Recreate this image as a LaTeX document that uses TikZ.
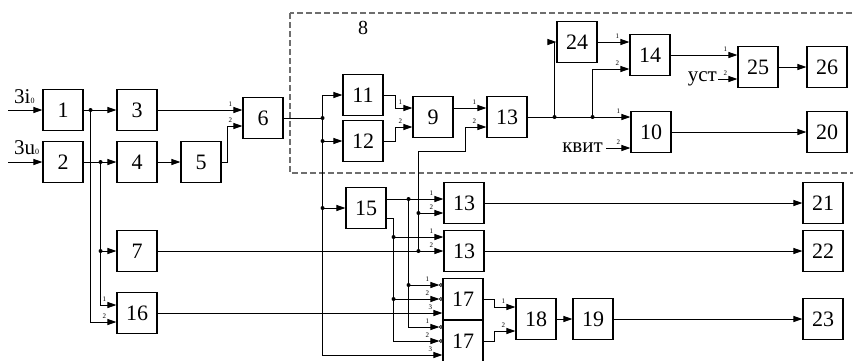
\documentclass[tikz,border=0pt]{standalone}
\usepackage{fontspec}
\setmainfont{Liberation Serif}
\usetikzlibrary{arrows.meta,calc}
\definecolor{Zone}{HTML}{6E6E6E}

\begin{document}
\begin{tikzpicture}[
  x=1pt,y=-1pt,
  blk/.style={draw,line width=1.1pt,minimum width=40pt,minimum height=41pt,inner sep=0pt,font=\fontsize{22}{24}\selectfont},
  arrow/.style={-{Triangle[length=9pt,width=6pt]},line width=0.9pt},
  wire/.style={line width=0.9pt},
  pinno/.style={font=\fontsize{7}{8}\selectfont,inner sep=0pt},
  sig/.style={font=\fontsize{21}{24}\selectfont,inner sep=1pt},
  zone/.style={draw=Zone,line width=1.4pt,dash pattern=on 6pt off 3pt}
]
\useasboundingbox (0,0) rectangle (853,360);

% zone 8
\draw[zone] (290,13) rectangle (870,173);
\node[sig,font=\fontsize{20}{24}\selectfont] (n8) at (363,28) {8};

% blocks
\node[blk] (b1) at (63,110) {1};
\node[blk] (b2) at (63,162) {2};
\node[blk] (b3) at (137,110) {3};
\node[blk] (b4) at (137,162) {4};
\node[blk] (b5) at (201,162) {5};
\node[blk] (b6) at (263,118) {6};
\node[blk] (b7) at (137,251) {7};
\node[blk] (b16) at (137,313) {16};
\node[blk] (b11) at (363,95) {11};
\node[blk] (b12) at (363,141) {12};
\node[blk] (b9) at (433,117) {9};
\node[blk] (b13a) at (507,117) {13};
\node[blk] (b24) at (577,42) {24};
\node[blk] (b14) at (650,55) {14};
\node[blk] (b25) at (758,67) {25};
\node[blk] (b26) at (827,67) {26};
\node[blk] (b10) at (651,132) {10};
\node[blk] (b20) at (827,132) {20};
\node[blk] (b15) at (366,208) {15};
\node[blk] (b13b) at (464,203) {13};
\node[blk] (b13c) at (464,251) {13};
\node[blk] (b17a) at (463,299) {17};
\node[blk] (b17b) at (463,341) {17};
\node[blk] (b18) at (536,319) {18};
\node[blk] (b19) at (593,319) {19};
\node[blk] (b21) at (823,203) {21};
\node[blk] (b22) at (823,251) {22};
\node[blk] (b23) at (823,319) {23};

% signals
\coordinate (in1) at (8,110);
\coordinate (in2) at (8,162);
\node[sig,anchor=base west] (t3i) at (13,103) {3i{\fontsize{8}{8}\selectfont 0}};
\node[sig,anchor=base west] (t3u) at (13,154) {3u{\fontsize{8}{8}\selectfont 0}};
\node[sig,anchor=east] (ust) at (718,79) {уст};
\node[sig,anchor=east,inner sep=3pt] (kvit) at (606,148) {квит};

% inputs
\coordinate (b6i1) at ([yshift=8pt]b6.west);
\coordinate (b6i2) at ([yshift=-8pt]b6.west);
\coordinate (b9i1) at ([yshift=9pt]b9.west);
\coordinate (b9i2) at ([yshift=-10pt]b9.west);
\coordinate (b13ai1) at ([yshift=9pt]b13a.west);
\coordinate (b13ai2) at ([yshift=-10pt]b13a.west);
\coordinate (b14i1) at ([yshift=13pt]b14.west);
\coordinate (b14i2) at ([yshift=-14pt]b14.west);
\coordinate (b25i1) at ([yshift=12pt]b25.west);
\coordinate (b25i2) at ([yshift=-12pt]b25.west);
\coordinate (b10i1) at ([yshift=15pt]b10.west);
\coordinate (b10i2) at ([yshift=-16pt]b10.west);
\coordinate (b16i1) at ([yshift=8pt]b16.west);
\coordinate (b16i2) at ([yshift=-9pt]b16.west);
\coordinate (b13bi1) at ([yshift=4pt]b13b.west);
\coordinate (b13bi2) at ([yshift=-10pt]b13b.west);
\coordinate (b13ci1) at ([yshift=14pt]b13c.west);
\coordinate (b13ci2) at (b13c.west);
\coordinate (b17ai1) at ([xshift=-3pt,yshift=14pt]b17a.west);
\coordinate (b17ai2) at ([xshift=-3pt]b17a.west);
\coordinate (b17ai3) at ([yshift=-14pt]b17a.west);
\coordinate (b17bi1) at ([xshift=-3pt,yshift=14pt]b17b.west);
\coordinate (b17bi2) at ([xshift=-3pt]b17b.west);
\coordinate (b17bi3) at ([yshift=-14pt]b17b.west);
\coordinate (b18i1) at ([yshift=12pt]b18.west);
\coordinate (b18i2) at ([yshift=-12pt]b18.west);

% junctions
\coordinate (j1) at ([xshift=7pt]b1.east);
\coordinate (j2) at ([xshift=17pt]b2.east);
\coordinate (j6) at ([xshift=39pt]b6.east);
\coordinate (j15a) at ([xshift=22pt,yshift=9pt]b15.east);
\coordinate (j15b) at ([xshift=7pt,yshift=-10pt]b15.east);
\coordinate (j7) at ([xshift=-25pt]b13c.west);
\coordinate (j13) at ([xshift=27pt]b13a.east);
\coordinate (j13b) at ([xshift=65pt]b13a.east);

% connections
\draw[arrow] (in1) -- (b1);
\draw[arrow] (in2) -- (b2);
\draw[arrow] (b1) -- (b3);
\draw[arrow] (b2) -- (b4);
\draw[arrow] (j1) |- (b16i2);
\draw[arrow] (j2) |- (b16i1);
\draw[arrow] (j2 |- b7) -- (b7);
\draw[arrow] (b3.east) -- (b6i1);
\draw[arrow] (b4) -- (b5);
\draw[arrow] (b5.east) -- ++(6,0) |- (b6i2);
\draw[wire] (b6.east) -- (j6);
\draw[arrow] (j6) |- (b11);
\draw[arrow] (j6) |- (b17bi3);
\draw[arrow] (j6 |- b12) -- (b12);
\draw[arrow] (j6 |- b15) -- (b15);
\draw[arrow] (b11.east) -- ++(12,0) |- (b9i1);
\draw[arrow] (b12.east) -- ++(12,0) |- (b9i2);
\draw[arrow] ([yshift=9pt]b9.east) -- (b13ai1);
\draw[arrow] (b13a.east) -- (b10i1);
\draw[arrow] (j13) |- (b24);
\draw[arrow] (j13b) |- (b14i2);
\draw[arrow] (b24) -- (b14i1);
\draw[arrow] (b14.east) -- (b25i1);
\draw[arrow] (ust.east) -- (b25i2);
\draw[arrow] (b25) -- (b26);
\draw[arrow] (kvit.east) -- (b10i2);
\draw[arrow] (b10) -- (b20);
\draw[arrow] ([yshift=9pt]b15.east) -- (b13bi1);
\draw[arrow] (j15a) |- (b17bi1);
\draw[arrow] (j15a |- b17ai1) -- (b17ai1);
\draw[wire] ([yshift=-10pt]b15.east) -- (j15b);
\draw[arrow] (j15b) |- (b17bi2);
\draw[arrow] (j15b |- b13ci1) -- (b13ci1);
\draw[arrow] (j15b |- b17ai2) -- (b17ai2);
\draw[arrow] (b7.east) -- (b13ci2);
\draw[arrow] (j7) -- ++(0,-100) -| ([xshift=-21pt]b13ai2) -- (b13ai2);
\draw[arrow] (j7 |- b13bi2) -- (b13bi2);
\draw[arrow] (b16.east) -- (b17ai3);
\draw[arrow] (b17a.east) -- ++(11,0) |- (b18i1);
\draw[arrow] (b17b.east) -- ++(11,0) |- (b18i2);
\draw[arrow] (b18) -- (b19);
\draw[arrow] (b19) -- (b23);
\draw[arrow] (b13b) -- (b21);
\draw[arrow] (b13c) -- (b22);

% inverted inputs of 17
\foreach \p in {b17ai1,b17ai2,b17bi1,b17bi2}
  \draw[line width=0.7pt,fill=white] ([xshift=1.5pt]\p) circle (1.5pt);

% dots
\foreach \p in {j1,j2,j6,j13,j13b,j15a,j7,j2 |- b7,j6 |- b12,j6 |- b15,j15a |- b17ai1,j15b |- b13ci1,j15b |- b17ai2,j7 |- b13bi2}
  \fill (\p) circle (2pt);

% input numbers
\foreach \p/\n in {b6i1/1,b6i2/2,b9i1/1,b9i2/2,b13ai1/1,b13ai2/2,b14i1/1,b14i2/2,b25i1/1,b25i2/2,b10i1/1,b10i2/2,b16i1/1,b16i2/2,b13bi1/1,b13bi2/2,b13ci1/1,b13ci2/2,b17ai1/1,b17ai2/2,b17ai3/3,b17bi1/1,b17bi2/2,b17bi3/3,b18i1/1,b18i2/2}
  \node[pinno] (l-\p) at ([xshift=-12pt,yshift=6pt]\p) {\n};
\end{tikzpicture}
\end{document}
